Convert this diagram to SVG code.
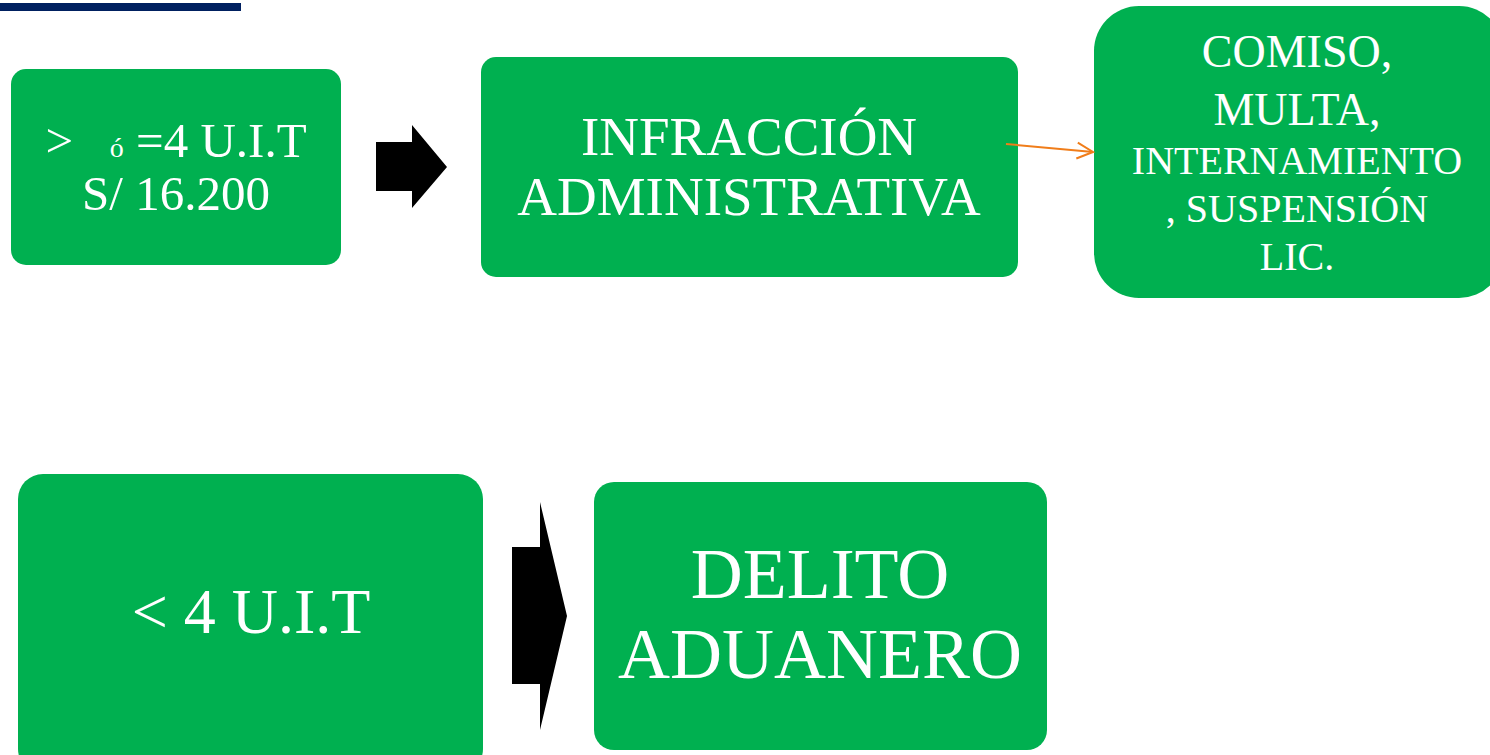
<svg xmlns="http://www.w3.org/2000/svg" width="1490" height="755" viewBox="0 0 1490 755">
<defs>
<style>
.box{fill:#00B050}
.t{fill:#ffffff;font-family:"Liberation Serif",serif;text-anchor:middle}
.blk{fill:#000000}
</style>
<marker id="oa" viewBox="0 0 20 20" refX="18" refY="10" markerWidth="20" markerHeight="20" markerUnits="userSpaceOnUse" orient="auto">
<path d="M2,2 L18,10 L2,18" fill="none" stroke="#F07D1A" stroke-width="2"/>
</marker>
</defs>
<rect x="0" y="3" width="241" height="8" fill="#002060"/>
<g id="n1">
<rect class="box" x="11" y="69" width="330" height="196" rx="15"/>
<text class="t" font-size="49" xml:space="preserve"><tspan x="176" y="157">&gt;   <tspan font-size="28">ó</tspan> =4 U.I.T</tspan><tspan x="176" y="210">S/ 16.200</tspan></text>
</g>
<g id="n2">
<rect class="box" x="481" y="57" width="537" height="220" rx="15"/>
<text class="t" font-size="55"><tspan x="749" y="155">INFRACCIÓN</tspan><tspan x="749" y="215">ADMINISTRATIVA</tspan></text>
</g>
<g id="n3">
<rect class="box" x="1094" y="6" width="410" height="292" rx="45"/>
<text class="t"><tspan x="1297" y="67" font-size="46">COMISO,</tspan><tspan x="1297" y="125" font-size="46">MULTA,</tspan><tspan x="1297" y="174" font-size="40">INTERNAMIENTO</tspan><tspan x="1297" y="222" font-size="40">, SUSPENSIÓN</tspan><tspan x="1297" y="270" font-size="40">LIC.</tspan></text>
</g>
<g id="n4">
<rect class="box" x="18" y="474" width="465" height="300" rx="25"/>
<text class="t" font-size="64" x="251" y="633">&lt; 4 U.I.T</text>
</g>
<g id="n5">
<rect class="box" x="594" y="482" width="453" height="268" rx="20"/>
<text class="t" font-size="72"><tspan x="820" y="598">DELITO</tspan><tspan x="820" y="678">ADUANERO</tspan></text>
</g>
<g id="connectors">
<polygon class="blk" points="376,142 412,142 412,125 447,167 412,208 412,191 376,191"/>
<polygon class="blk" points="512,547 540,547 540,502 567,616 540,730 540,684 512,684"/>
<line x1="1006" y1="144" x2="1093" y2="152" stroke="#F07D1A" stroke-width="2" marker-end="url(#oa)"/>
</g>
</svg>
